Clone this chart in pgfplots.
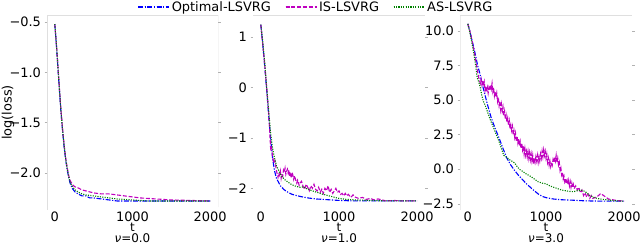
\documentclass[border=0pt]{standalone}
\usepackage{pgfplots}
\pgfplotsset{compat=1.18}
\usepackage{fontspec}
\setmainfont{DejaVu Sans}
\definecolor{mblue}{rgb}{0,0,1}
\definecolor{mmag}{rgb}{0.75,0,0.75}
\definecolor{mgreen}{rgb}{0,0.5,0}
\newcommand{\fs}{\fontsize{13}{15}\selectfont}
\newcommand{\fsl}{\fontsize{12}{13}\selectfont}
\pgfplotsset{
  base/.style={
    scale only axis, height=195bp,
    xmin=-100, xmax=2100,
    xtick={0,1000,2000}, xticklabels={0,1000,2000},
    axis line style={draw=none},
    tick style={gray!60, line width=0.5bp},
    tick align=outside, major tick length=2.5bp,
    xtick style={draw=none},
    /pgf/number format/assume math mode=true,
    ticklabel style={font=\fs},
    label style={font=\fsl},
    xlabel={t},
    xlabel style={at={(axis description cs:0.5,-0.1128)}, anchor=base, inner sep=0pt},
    title style={at={(axis description cs:0.5,-0.1949)}, anchor=base, font=\fsl, inner sep=0pt},
    xticklabel style={anchor=base, yshift=-9bp, inner sep=0pt},
  },
  bl/.style={mblue, line width=1.1bp, dash pattern=on 5bp off 1.5bp on 1.2bp off 1.5bp},
  mg/.style={mmag, line width=1.1bp, dash pattern=on 4bp off 1.8bp},
  gr/.style={mgreen, line width=1.1bp, dash pattern=on 1.1bp off 1.3bp},
}
\begin{document}
\begin{tikzpicture}
\useasboundingbox (0,0) rectangle (640bp,249bp);
% ---------- nu = 0.0
\begin{axis}[base, at={(47bp,39bp)}, anchor=south west, width=171bp,
  ymin=-2.37, ymax=-0.43,
  ytick={-2,-1.5,-1,-0.5},
  yticklabels={−2.0,−1.5,−1.0,−0.5},
  ylabel={log(loss)},
  ylabel style={at={(axis description cs:-0.228,0.5)}, anchor=center, font=\fs},
  title={{\itshape ν}=0.0},
  legend style={at={(axis description cs:1.573,1.041)}, anchor=center, draw=none, fill=none,
    legend columns=3, font=\fs,
    /tikz/every even column/.append style={column sep=12bp}},
  legend image code/.code={\draw[#1] (0bp,0bp) -- (22bp,0bp); \path (0bp,0bp) -- (31bp,0bp);},
]
\draw[gray!25, line width=0.8bp] (rel axis cs:0,0) -- (rel axis cs:0,1) -- (rel axis cs:1,1);
\draw[gray!65, line width=0.8bp] (rel axis cs:1,0.015) -- (rel axis cs:1,1);
\addplot[bl] coordinates {(0,-0.52) (20,-0.72) (40,-0.95) (60,-1.18) (80,-1.40) (100,-1.58) (120,-1.74) (140,-1.87) (160,-1.97) (180,-2.05) (200,-2.11) (230,-2.16) (260,-2.19) (300,-2.21) (350,-2.23) (400,-2.23) (450,-2.25) (500,-2.25) (600,-2.26) (700,-2.27) (800,-2.28) (1000,-2.28) (1200,-2.28) (1500,-2.28) (2000,-2.28)};
\addlegendentry{Optimal-LSVRG}
\addplot[mg] coordinates {(0,-0.52) (20,-0.71) (40,-0.93) (60,-1.16) (80,-1.38) (100,-1.56) (120,-1.72) (140,-1.85) (160,-1.95) (180,-2.03) (200,-2.08) (230,-2.12) (260,-2.14) (300,-2.15) (350,-2.17) (400,-2.18) (450,-2.19) (500,-2.20) (600,-2.21) (700,-2.21) (800,-2.22) (900,-2.23) (1000,-2.24) (1100,-2.25) (1300,-2.26) (1500,-2.27) (2000,-2.28)};
\addlegendentry{IS-LSVRG}
\addplot[gr] coordinates {(0,-0.52) (20,-0.71) (40,-0.94) (60,-1.17) (80,-1.39) (100,-1.57) (120,-1.73) (140,-1.86) (160,-1.96) (180,-2.04) (200,-2.10) (230,-2.14) (260,-2.17) (300,-2.19) (350,-2.21) (400,-2.22) (500,-2.23) (600,-2.24) (700,-2.25) (800,-2.26) (1000,-2.27) (1200,-2.28) (1500,-2.28) (2000,-2.28)};
\addlegendentry{AS-LSVRG}
\end{axis}
% ---------- nu = 1.0
\begin{axis}[base, at={(253bp,39bp)}, anchor=south west, width=172bp,
  ymin=-2.43, ymax=1.44,
  ytick={-2,-1,0,1},
  yticklabels={−2,−1,0,1},
  title={{\itshape ν}=1.0},
]
\draw[gray!25, line width=0.8bp] (rel axis cs:0,1) -- (rel axis cs:1,1);
\addplot[bl] coordinates {(0,1.25) (25,0.85) (50,0.42) (75,-0.05) (100,-0.55) (125,-1.0) (150,-1.4) (175,-1.65) (200,-1.8) (250,-1.95) (300,-2.03) (350,-2.08) (400,-2.12) (500,-2.16) (600,-2.19) (700,-2.21) (800,-2.22) (1000,-2.24) (1200,-2.25) (1500,-2.25) (2000,-2.25)};
\addplot[mg] coordinates {(0,1.25) (25,0.85) (50,0.45) (75,0.0) (100,-0.5) (115,-0.9) (125,-1.2) (135,-1.15) (150,-1.35) (165,-1.5) (180,-1.45) (200,-1.65) (210,-1.72) (220,-1.78) (230,-1.7) (240,-1.74) (250,-1.66) (260,-1.8) (270,-1.72) (280,-1.76) (290,-1.64) (300,-1.68) (310,-1.6) (320,-1.72) (330,-1.66) (340,-1.62) (350,-1.7) (360,-1.64) (370,-1.76) (380,-1.72) (390,-1.8) (400,-1.68) (410,-1.74) (420,-1.82) (430,-1.75) (440,-1.8) (450,-1.86) (460,-1.9) (470,-1.84) (480,-1.88) (490,-1.94) (500,-1.9) (520,-1.86) (540,-1.96) (560,-2.02) (580,-1.92) (600,-1.98) (620,-2.05) (640,-1.95) (660,-2.0) (680,-1.92) (700,-2.02) (720,-2.05) (740,-1.98) (760,-2.08) (780,-2.02) (800,-2.1) (820,-2.0) (840,-2.05) (860,-1.95) (880,-2.08) (900,-2.02) (920,-2.1) (940,-2.05) (960,-2.0) (980,-2.08) (1000,-2.05) (1020,-2.12) (1040,-2.1) (1060,-2.15) (1080,-2.1) (1100,-2.15) (1120,-2.12) (1150,-2.18) (1180,-2.13) (1200,-2.17) (1250,-2.2) (1300,-2.18) (1350,-2.22) (1400,-2.2) (1450,-2.23) (1500,-2.21) (1600,-2.25) (1700,-2.24) (1800,-2.25) (2000,-2.25)};
\addplot[gr] coordinates {(0,1.25) (25,0.9) (50,0.5) (75,0.0) (100,-0.45) (125,-0.9) (150,-1.2) (175,-1.4) (200,-1.55) (250,-1.72) (300,-1.82) (350,-1.88) (400,-1.93) (450,-1.96) (500,-1.98) (550,-1.97) (600,-2.02) (700,-2.07) (800,-2.12) (900,-2.16) (1000,-2.2) (1100,-2.22) (1200,-2.23) (1400,-2.24) (1600,-2.25) (2000,-2.25)};
\end{axis}
% ---------- nu = 3.0
\begin{axis}[base, at={(460bp,39bp)}, anchor=south west, width=172bp,
  ymin=-2.94, ymax=11.14,
  ytick={-2.5,0,2.5,5,7.5,10},
  yticklabels={−2.5,0.0,2.5,5.0,7.5,10.0},
  title={{\itshape ν}=3.0},
]
\draw[gray!15, line width=0.8bp] (rel axis cs:0,0) -- (rel axis cs:0,1);
\draw[gray!25, line width=0.8bp] (rel axis cs:0,1) -- (rel axis cs:1,1);
\addplot[bl] coordinates {(0,10.5) (25,10.0) (50,9.4) (75,8.8) (100,8.2) (125,7.5) (150,7.0) (175,6.4) (200,5.8) (250,4.7) (300,3.7) (350,2.95) (400,2.25) (450,1.5) (500,0.8) (550,0.3) (600,-0.1) (650,-0.45) (700,-0.75) (750,-1.05) (800,-1.3) (850,-1.55) (900,-1.78) (950,-1.95) (1000,-2.05) (1100,-2.15) (1200,-2.2) (1300,-2.22) (1500,-2.28) (1700,-2.3) (2000,-2.3)};
\addplot[mg] coordinates {(0,10.5) (25,10.0) (50,9.4) (75,8.7) (100,7.9) (120,7.2) (140,6.6) (160,6.2) (170,6.5) (180,6.1) (190,6.4) (200,6.0) (210,6.3) (220,5.7) (230,6.0) (240,5.6) (250,5.9) (260,5.5) (270,5.9) (280,5.7) (290,6.1) (300,5.8) (310,6.2) (320,5.6) (330,5.9) (340,5.3) (350,5.6) (360,5.2) (370,5.5) (380,4.9) (390,5.2) (400,4.6) (410,4.9) (420,4.3) (430,4.7) (440,4.2) (450,4.5) (460,3.9) (470,4.2) (480,3.6) (490,3.9) (500,3.4) (510,3.7) (520,3.2) (530,3.5) (540,2.9) (550,3.2) (560,2.8) (570,3.1) (580,2.5) (590,2.8) (600,2.3) (610,2.6) (620,2.0) (630,2.4) (640,1.9) (650,2.2) (660,1.7) (670,2.0) (680,1.5) (690,1.9) (700,1.4) (710,1.7) (720,1.1) (730,1.5) (740,1.0) (750,1.3) (760,0.9) (770,1.3) (780,0.8) (790,1.2) (800,0.7) (810,1.1) (820,0.6) (830,1.0) (840,0.4) (850,0.8) (860,0.5) (870,0.9) (880,0.6) (890,1.0) (900,0.5) (910,0.9) (920,0.6) (930,1.1) (940,0.8) (950,1.3) (960,0.9) (970,1.4) (980,1.0) (990,1.3) (1000,0.8) (1010,1.1) (1020,0.5) (1030,0.8) (1040,0.3) (1050,0.6) (1060,0.2) (1070,0.5) (1080,0.3) (1090,0.7) (1100,0.5) (1110,0.9) (1120,0.6) (1130,1.0) (1140,0.5) (1150,0.8) (1160,0.3) (1170,0.5) (1180,-0.1) (1190,0.1) (1200,-0.4) (1210,-0.2) (1220,-0.7) (1230,-0.5) (1240,-0.9) (1250,-0.7) (1260,-1.0) (1270,-0.8) (1280,-1.1) (1290,-0.8) (1300,-1.2) (1310,-0.9) (1320,-1.3) (1330,-1.0) (1340,-1.3) (1350,-1.1) (1360,-1.4) (1380,-1.2) (1400,-1.5) (1420,-1.3) (1440,-1.7) (1460,-1.5) (1480,-1.9) (1500,-1.7) (1520,-2.0) (1540,-1.8) (1560,-2.1) (1580,-1.9) (1600,-2.1) (1650,-2.0) (1700,-1.75) (1750,-1.95) (1800,-2.15) (1900,-2.25) (2000,-2.3)};
\addplot[gr] coordinates {(0,10.5) (25,9.9) (50,9.2) (75,8.4) (100,7.5) (120,6.6) (140,6.3) (160,5.9) (180,5.3) (200,4.9) (230,4.5) (260,4.0) (300,3.4) (350,2.7) (400,2.0) (430,1.5) (460,1.0) (500,0.85) (530,0.7) (560,0.6) (600,0.45) (630,0.2) (660,0.0) (700,-0.15) (750,-0.35) (800,-0.5) (850,-0.7) (900,-0.9) (950,-1.0) (1000,-1.05) (1050,-1.2) (1100,-1.3) (1150,-1.4) (1200,-1.5) (1250,-1.55) (1300,-1.6) (1350,-1.62) (1400,-1.55) (1450,-1.5) (1500,-1.6) (1550,-1.85) (1600,-2.0) (1650,-2.1) (1700,-2.15) (1800,-2.22) (1900,-2.28) (2000,-2.3)};
\end{axis}
\end{tikzpicture}
\end{document}
